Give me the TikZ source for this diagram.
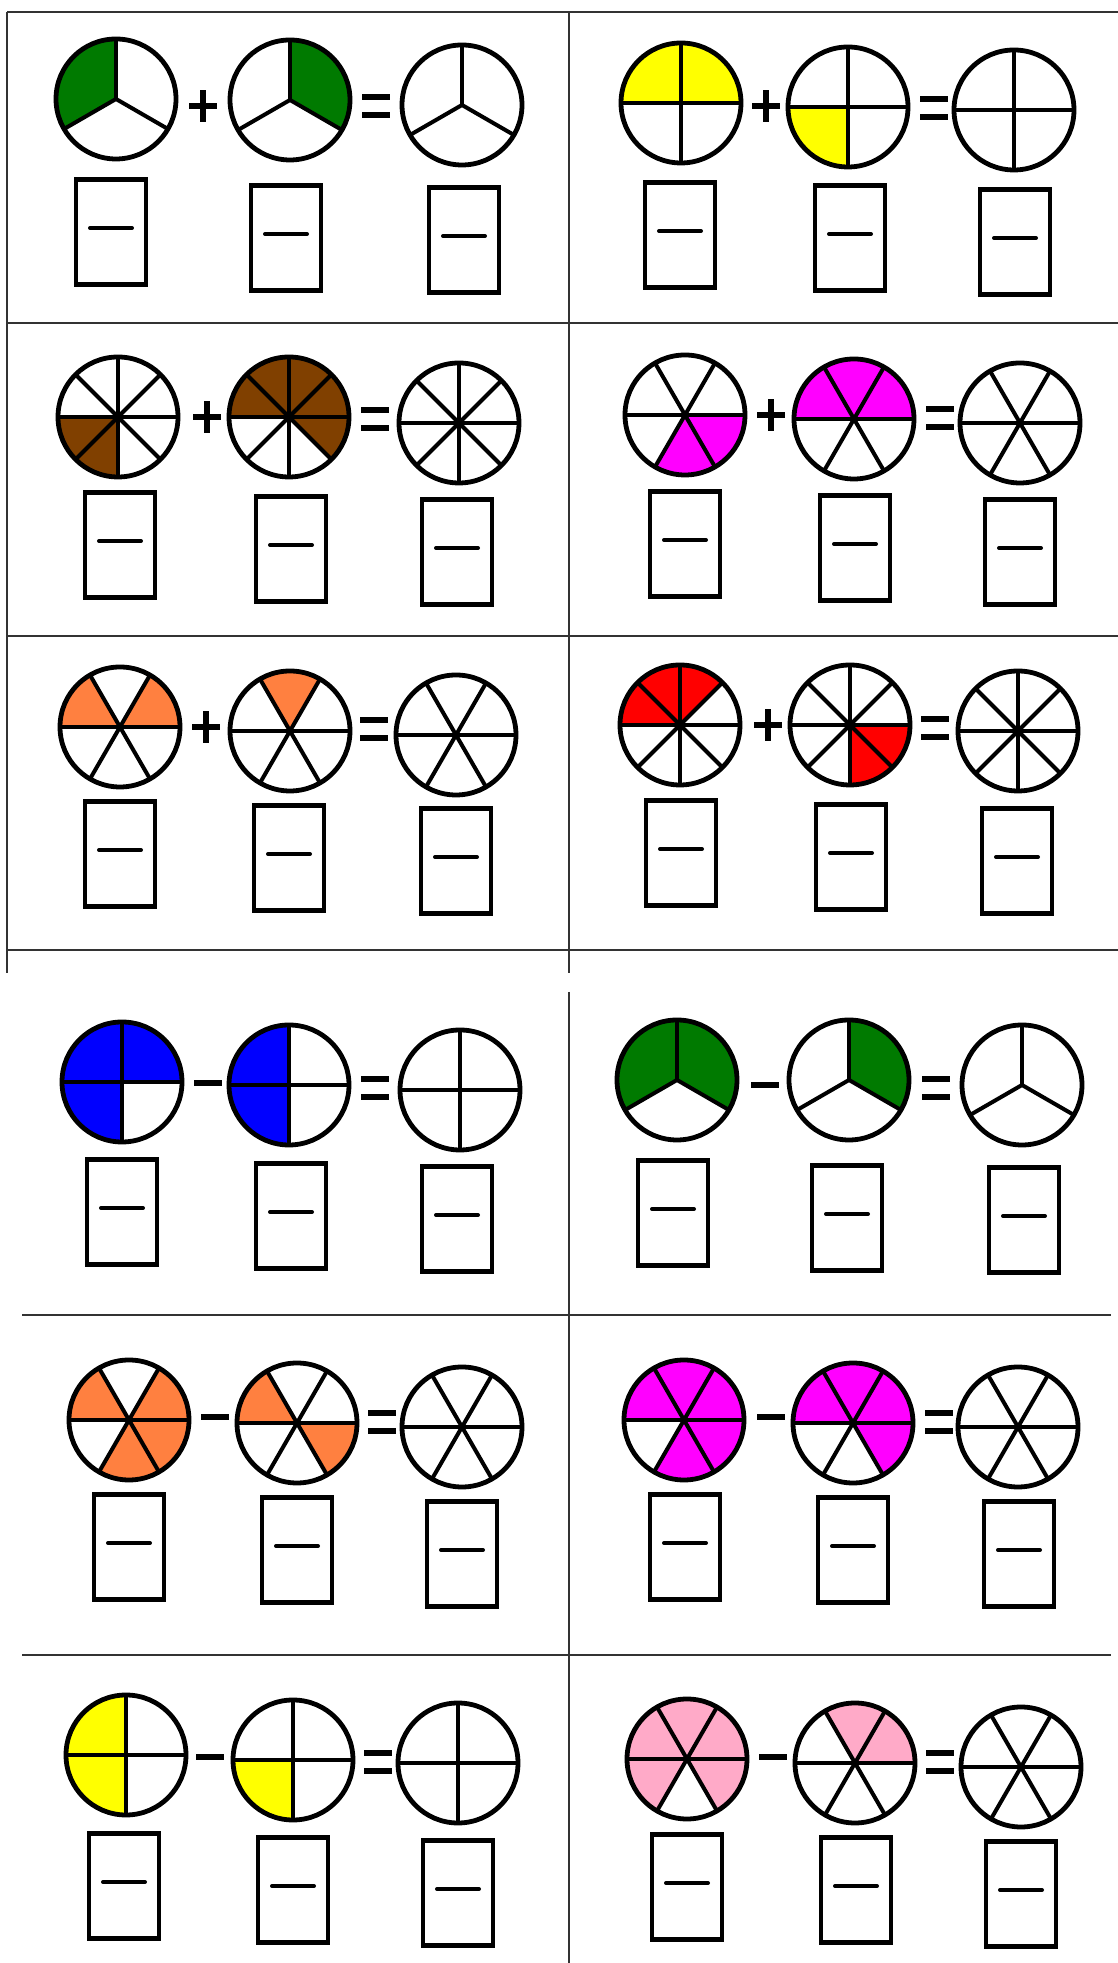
\documentclass[tikz,border=0pt]{standalone}
\definecolor{cgreen}{RGB}{0,122,0}
\definecolor{cyellow}{RGB}{255,255,0}
\definecolor{cbrown}{RGB}{128,64,0}
\definecolor{cmagenta}{RGB}{255,0,255}
\definecolor{corange}{RGB}{255,128,64}
\definecolor{cred}{RGB}{255,0,0}
\definecolor{cblue}{RGB}{0,0,255}
\definecolor{cpink}{RGB}{255,170,200}
\tikzset{
  pieline/.style={line width=4.8pt, black},
  segline/.style={line width=4pt, black},
  signline/.style={line width=5.5pt, black},
  gridline/.style={line width=1.6pt, black!80},
  fbox/.style={draw, line width=4.8pt, minimum width=70pt, minimum height=105pt, inner sep=0pt, outer sep=0pt, fill=white},
  fdash/.style={line width=4pt, line cap=round},
}
% #1 cx, #2 cy (px from top), #3 parts, #4 first line angle, #5 colour, #6 list of filled sector start angles
\newcommand\pie[6]{%
  \begin{scope}[shift={(#1,1963-#2)}]
    \foreach \a in {#6}{\fill[#5] (0,0) -- (\a:60pt) arc[start angle=\a, delta angle=360/#3, radius=60pt] -- cycle;}
    \foreach \k in {1,...,#3}{\draw[segline] (0,0) -- ({#4+\k*360/#3}:60pt);}
    \draw[pieline] (0,0) circle[radius=60pt];
  \end{scope}}
\newcommand\plussign[2]{\draw[signline] (#1-14,1963-#2) -- (#1+14,1963-#2) (#1,1963-#2-16) -- (#1,1963-#2+16);}
\newcommand\minussign[2]{\draw[signline] (#1-14,1963-#2) -- (#1+14,1963-#2);}
\newcommand\eqsign[2]{\draw[signline] (#1-14,1963-#2+9) -- (#1+14,1963-#2+9) (#1-14,1963-#2-9) -- (#1+14,1963-#2-9);}
\newcommand\ansbox[3]{\node[fbox] (#1) at (#2,1963-#3) {};
  \draw[fdash] ([shift={(-21pt,4pt)}]#1.center) -- ([shift={(21pt,4pt)}]#1.center);}
\begin{document}
\begin{tikzpicture}[x=1pt,y=1pt]
\useasboundingbox (0,0) rectangle (1118,1963);
\fill[white] (0,0) rectangle (1118,1963);
% top table
\draw[gridline] (7,1951) -- (1118,1951);
\draw[gridline] (7,1951) -- (7,990);
\draw[gridline] (569,1951) -- (569,990);
\draw[gridline] (7,1640) -- (1118,1640);
\draw[gridline] (7,1327) -- (1118,1327);
\draw[gridline] (7,1013) -- (1118,1013);
% bottom table
\draw[gridline] (569,971) -- (569,0);
\draw[gridline] (22,648) -- (1111,648);
\draw[gridline] (22,308) -- (1111,308);

% cell 1
\pie{116}{99}{3}{90}{cgreen}{90}
\plussign{203}{106}
\pie{290}{100}{3}{90}{cgreen}{-30}
\eqsign{376}{106}
\pie{462}{105}{3}{90}{white}{0}
\ansbox{b1a}{111}{232}\ansbox{b1b}{286}{238}\ansbox{b1c}{464}{240}
% cell 2
\pie{681}{103}{4}{0}{cyellow}{0,90}
\plussign{766}{106}
\pie{848}{107}{4}{0}{cyellow}{180}
\eqsign{934}{108}
\pie{1014}{110}{4}{0}{white}{0}
\ansbox{b2a}{680}{235}\ansbox{b2b}{850}{238}\ansbox{b2c}{1015}{242}
% cell 3
\pie{118}{417}{8}{0}{cbrown}{180,225}
\plussign{207}{417}
\pie{289}{417}{8}{0}{cbrown}{0,45,90,135,315}
\eqsign{375}{419}
\pie{459}{423}{8}{0}{white}{0}
\ansbox{b3a}{120}{545}\ansbox{b3b}{291}{549}\ansbox{b3c}{457}{552}
% cell 4
\pie{685}{415}{6}{0}{cmagenta}{240,300}
\plussign{771}{415}
\pie{854}{419}{6}{0}{cmagenta}{0,60,120}
\eqsign{940}{418}
\pie{1020}{423}{6}{0}{white}{0}
\ansbox{b4a}{685}{544}\ansbox{b4b}{855}{548}\ansbox{b4c}{1020}{552}
% cell 5
\pie{120}{727}{6}{0}{corange}{0,120}
\plussign{206}{727}
\pie{290}{731}{6}{0}{corange}{60}
\eqsign{374}{729}
\pie{456}{735}{6}{0}{white}{0}
\ansbox{b5a}{120}{854}\ansbox{b5b}{289}{858}\ansbox{b5c}{456}{861}
% cell 6
\pie{680}{725}{8}{0}{cred}{45,90,135}
\plussign{768}{725}
\pie{850}{725}{8}{0}{cred}{270,315}
\eqsign{935}{728}
\pie{1018}{731}{8}{0}{white}{0}
\ansbox{b6a}{681}{853}\ansbox{b6b}{851}{857}\ansbox{b6c}{1017}{861}
% cell 7
\pie{122}{1082}{4}{0}{cblue}{0,90,180}
\minussign{208}{1083}
\pie{289}{1085}{4}{0}{cblue}{90,180}
\eqsign{375}{1088}
\pie{460}{1090}{4}{0}{white}{0}
\ansbox{b7a}{122}{1212}\ansbox{b7b}{291}{1216}\ansbox{b7c}{457}{1219}
% cell 8
\pie{677}{1080}{3}{90}{cgreen}{-30,90}
\minussign{765}{1085}
\pie{849}{1080}{3}{90}{cgreen}{-30}
\eqsign{936}{1088}
\pie{1022}{1085}{3}{90}{white}{0}
\ansbox{b8a}{673}{1213}\ansbox{b8b}{847}{1218}\ansbox{b8c}{1024}{1220}
% cell 9
\pie{129}{1420}{6}{0}{corange}{0,120,240,300}
\minussign{215}{1417}
\pie{297}{1423}{6}{0}{corange}{120,300}
\eqsign{382}{1422}
\pie{462}{1427}{6}{0}{white}{0}
\ansbox{b9a}{129}{1547}\ansbox{b9b}{297}{1550}\ansbox{b9c}{462}{1554}
% cell 10
\pie{684}{1420}{6}{0}{cmagenta}{0,60,120,240,300}
\minussign{771}{1417}
\pie{853}{1423}{6}{0}{cmagenta}{0,60,120,300}
\eqsign{939}{1422}
\pie{1018}{1427}{6}{0}{white}{0}
\ansbox{b10a}{685}{1547}\ansbox{b10b}{853}{1550}\ansbox{b10c}{1019}{1554}
% cell 11
\pie{126}{1755}{4}{0}{cyellow}{90,180}
\minussign{210}{1757}
\pie{293}{1760}{4}{0}{cyellow}{180}
\eqsign{378}{1762}
\pie{458}{1763}{4}{0}{white}{0}
\ansbox{b11a}{124}{1886}\ansbox{b11b}{293}{1890}\ansbox{b11c}{458}{1893}
% cell 12
\pie{687}{1759}{6}{0}{cpink}{0,60,120,180,300}
\minussign{773}{1757}
\pie{855}{1763}{6}{0}{cpink}{0,60}
\eqsign{940}{1762}
\pie{1021}{1767}{6}{0}{white}{0}
\ansbox{b12a}{687}{1887}\ansbox{b12b}{856}{1890}\ansbox{b12c}{1021}{1894}
\end{tikzpicture}
\end{document}
